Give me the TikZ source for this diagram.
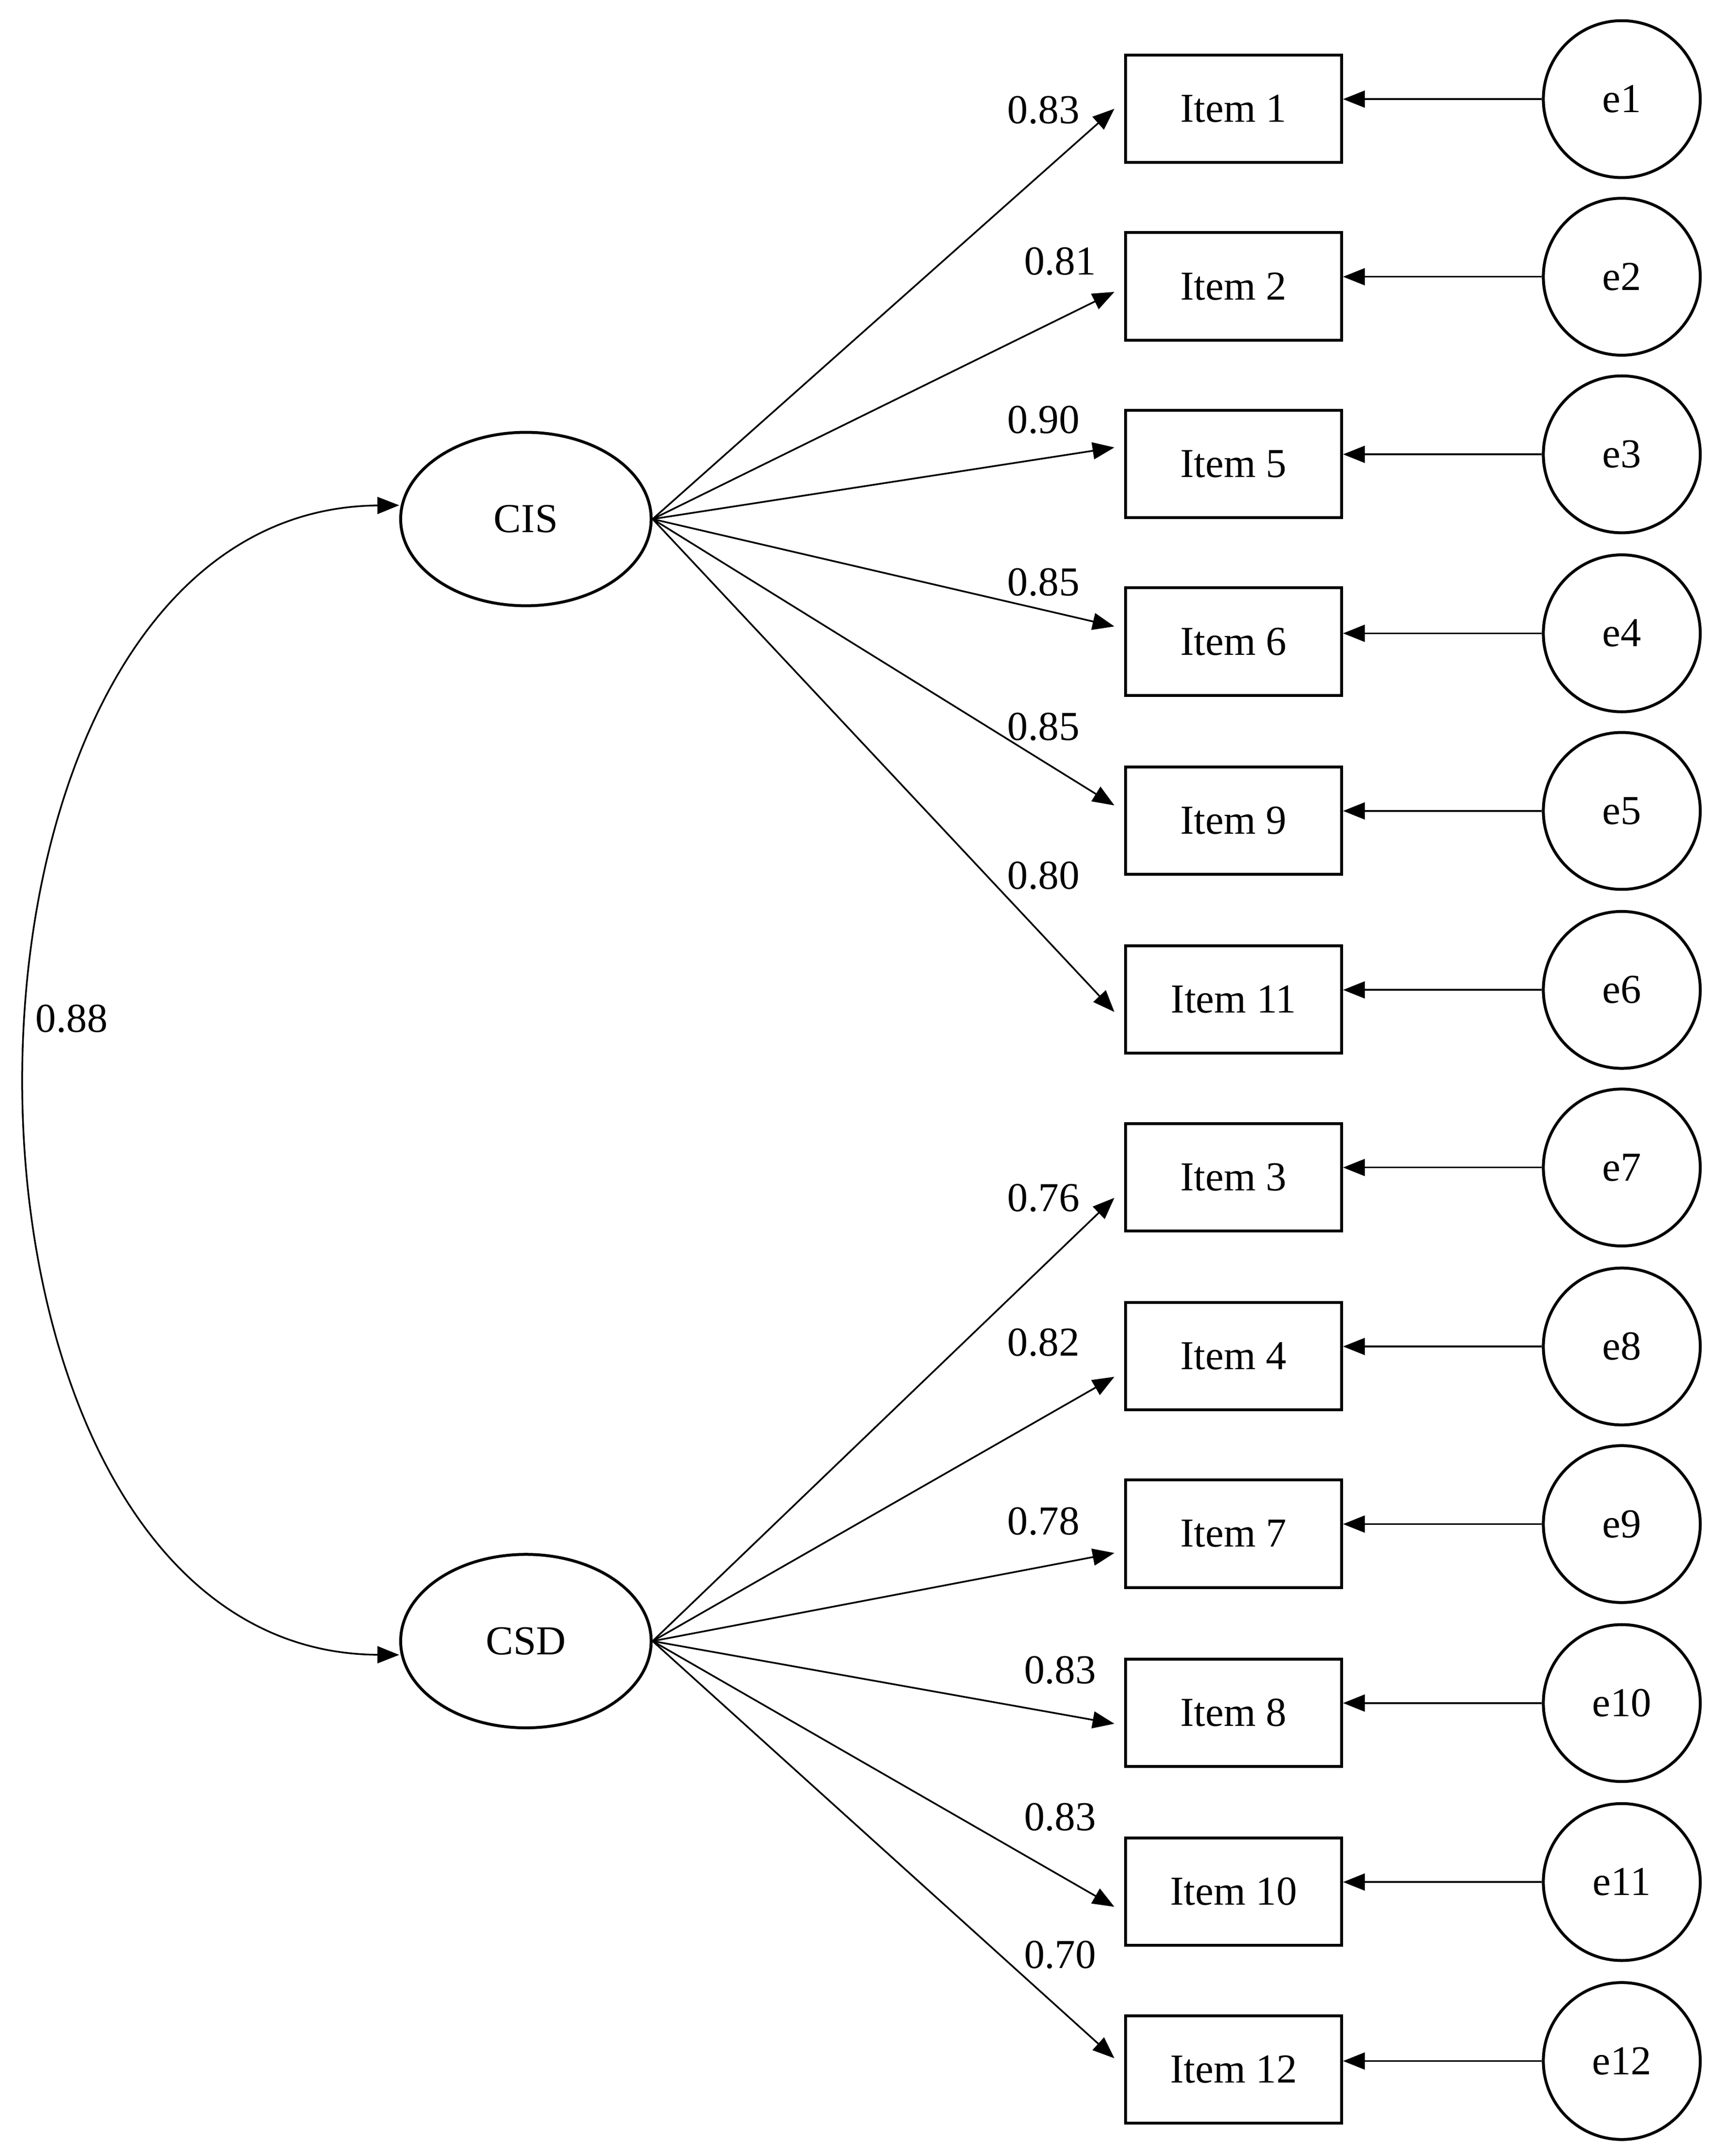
\documentclass[tikz,border=0pt]{standalone}
\usepackage{fontspec}
\setmainfont{Liberation Serif}
\usetikzlibrary{arrows.meta,shapes.geometric}
\begin{document}
\begin{tikzpicture}[x=0.02cm,y=-0.02cm,
  font=\fontsize{17}{20}\selectfont,
  box/.style={draw,line width=1.2pt,minimum width=3.14cm,minimum height=1.56cm,inner sep=0},
  err/.style={draw,line width=1.2pt,circle,minimum size=2.28cm,inner sep=0},
  lat/.style={draw,line width=1.2pt,ellipse,minimum width=3.64cm,minimum height=2.52cm,inner sep=0},
  arr/.style={-{Triangle[length=9pt,width=7pt]},line width=0.7pt},
  lab/.style={inner sep=1pt}]
\useasboundingbox (0,0) rectangle (1250,1566);
\node[lat] (CIS) at (382,377) {CIS};
\node[lat] (CSD) at (382,1192) {CSD};
\foreach \n/\t/\y/\e/\ey in {i1/Item 1/79/e1/72, i2/Item 2/208/e2/201, i5/Item 5/337/e3/330, i6/Item 6/466/e4/460, i9/Item 9/596/e5/589, i11/Item 11/726/e6/719, i3/Item 3/855/e7/848, i4/Item 4/985/e8/978, i7/Item 7/1114/e9/1107, i8/Item 8/1244/e10/1237, i10/Item 10/1374/e11/1367, i12/Item 12/1503/e12/1497}{
  \node[box] (\n) at (896,\y) {\t};
  \node[err] (\e) at (1178,\ey) {\e};
  \draw[arr] (\e.west) -- (\n.east |- \e.west);
}
\foreach \n/\dy/\v/\lx/\ly in {i1/0/0.83/758/80, i2/4/0.81/770/190, i5/-12/0.90/758/305, i6/-11/0.85/758/423, i9/-11/0.85/758/528, i11/9/0.80/758/636}{
  \draw[arr] (CIS.east) -- ([xshift=-4pt,yshift=-\dy*0.02cm]\n.west);
  \node[lab] at (\lx,\ly) {\v};
}
\foreach \n/\dy/\v/\lx/\ly in {i3/15/0.76/758/870, i4/15/0.82/758/975, i7/14/0.78/758/1105, i8/8/0.83/770/1213, i10/11/0.83/770/1320, i12/-8/0.70/770/1420}{
  \draw[arr] (CSD.east) -- ([xshift=-4pt,yshift=-\dy*0.02cm]\n.west);
  \node[lab] at (\lx,\ly) {\v};
}
\draw[arr,{Triangle[length=9pt,width=7pt]}-{Triangle[length=9pt,width=7pt]}] ([yshift=0.2cm]CIS.west) .. controls (-70,370) and (-70,1200) .. ([yshift=-0.2cm]CSD.west);
\node[lab] at (52,740) {0.88};
\end{tikzpicture}
\end{document}
